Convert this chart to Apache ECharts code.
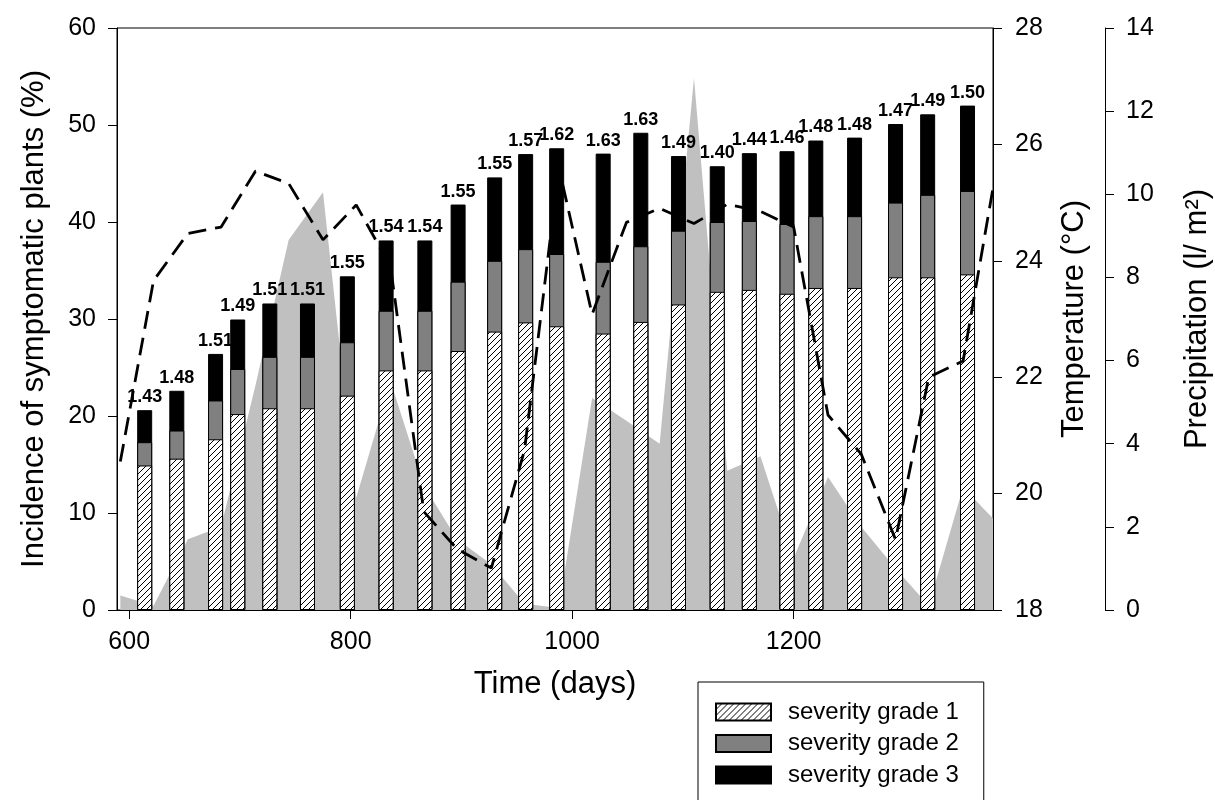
<!DOCTYPE html>
<html><head><meta charset="utf-8">
<script src="https://cdn.jsdelivr.net/npm/echarts@6/dist/echarts.min.js"></script>
<style>html,body{margin:0;padding:0;background:#fff}#c{width:1215px;height:800px}</style>
</head><body><div id="c"></div>
<script>
// ---- data ----
const barDays = [614, 643, 678, 698, 727, 761, 797, 832, 867, 897, 930, 958, 986, 1028, 1062, 1096, 1131, 1160, 1194, 1220, 1255, 1292, 1321, 1357];
const severityIndex = ['1.43','1.48','1.51','1.49','1.51','1.51','1.55','1.54','1.54','1.55','1.55','1.57','1.62','1.63','1.63','1.49','1.40','1.44','1.46','1.48','1.48','1.47','1.49','1.50'];
const grade1 = [14.9, 15.6, 17.6, 20.2, 20.8, 20.8, 22.1, 24.7, 24.7, 26.7, 28.7, 29.65, 29.25, 28.5, 29.7, 31.5, 32.8, 33.0, 32.6, 33.2, 33.2, 34.3, 34.3, 34.6];
const grade2 = [2.4, 2.9, 4.0, 4.65, 5.3, 5.3, 5.5, 6.15, 6.15, 7.15, 7.3, 7.55, 7.45, 7.4, 7.8, 7.6, 7.2, 7.1, 7.2, 7.4, 7.4, 7.7, 8.5, 8.6];
const grade3 = [3.3, 4.1, 4.8, 5.1, 5.5, 5.5, 6.8, 7.25, 7.25, 7.95, 8.6, 9.8, 10.9, 11.15, 11.7, 7.7, 5.75, 7.0, 7.5, 7.8, 8.1, 8.1, 8.3, 8.8];
const climateDays = [592, 622, 653, 683, 714, 744, 775, 805, 836, 866, 896, 927, 957, 988, 1018, 1049, 1079, 1110, 1140, 1170, 1200, 1231, 1261, 1292, 1322, 1353, 1380];
const temperature = [20.55, 23.66, 24.47, 24.58, 25.54, 25.33, 24.36, 24.96, 23.9, 19.69, 19.05, 18.72, 20.75, 25.6, 23.08, 24.66, 24.9, 24.64, 24.97, 24.85, 24.58, 21.35, 20.68, 19.21, 22.0, 22.28, 25.25];
const precipitation = [0.35, 0.1, 1.7, 2.0, 5.4, 8.9, 10.05, 2.7, 5.5, 3.0, 1.7, 1.1, 0.15, 0.05, 5.1, 4.55, 4.0, 12.8, 3.35, 3.7, 1.25, 3.2, 2.0, 1.0, 0.1, 2.95, 2.2];
const xTicks = [600, 800, 1000, 1200];
const seriesNames = ['severity grade 1', 'severity grade 2', 'severity grade 3'];

// ---- rendering ----
const FONT = "'Liberation Sans', Arial, sans-serif";
function hatch() {
  const c = document.createElement('canvas');
  c.width = 6; c.height = 6;
  const g = c.getContext('2d');
  g.fillStyle = '#fff'; g.fillRect(0, 0, 6, 6);
  g.strokeStyle = '#000'; g.lineWidth = 1;
  g.beginPath();
  g.moveTo(0, 6); g.lineTo(6, 0);
  g.moveTo(-1, 1); g.lineTo(1, -1);
  g.moveTo(5, 7); g.lineTo(7, 5);
  g.stroke();
  return c;
}
const zip = (xs, ys) => xs.map((x, i) => [x, ys[i]]);
// cumulative tops of the stacked segments (drawn as overlapping bars)
const top1 = grade1.slice();
const top2 = grade1.map((v, i) => v + grade2[i]);
const top3 = top2.map((v, i) => v + grade3[i]);

const chart = echarts.init(document.getElementById('c'), null, {renderer: 'canvas'});
const axisLine = {show: true, lineStyle: {color: '#000', width: 1}};
const tick = {show: true, inside: false, length: 9, lineStyle: {color: '#000', width: 1}};
const tickLabel = {color: '#000', fontSize: 25, fontFamily: FONT, formatter: v => String(v)};
const nameStyle = {color: '#000', fontSize: 31, fontFamily: FONT};

const barBase = {type: 'bar', barWidth: 15, barGap: '-100%', xAxisIndex: 0, yAxisIndex: 0};

chart.setOption({
  animation: false,
  backgroundColor: '#fff',
  grid: {left: 117, right: 222, top: 28, bottom: 190, outerBoundsMode: 'none', containLabel: false,
         show: true, borderColor: '#000', borderWidth: 1, backgroundColor: 'transparent'},
  legend: {
    orient: 'vertical', left: 698, top: 682, height: 140,
    data: seriesNames,
    icon: 'rect', itemWidth: 55, itemHeight: 17, itemGap: 7.5,
    padding: [18, 25, 16, 17],
    borderColor: '#000', borderWidth: 1,
    textStyle: {color: '#000', fontSize: 24, fontFamily: FONT, padding: [0, 0, 0, 12]},
    selectedMode: false
  },
  xAxis: {
    type: 'value', min: 589, max: 1380,
    name: 'Time (days)', nameLocation: 'middle', nameGap: 59, nameTextStyle: nameStyle, nameMoveOverlap: false,
    axisLine: axisLine,
    axisTick: Object.assign({}, tick, {customValues: xTicks}),
    axisLabel: Object.assign({}, tickLabel, {customValues: xTicks, margin: 20}),
    splitLine: {show: false}
  },
  yAxis: [
    {
      type: 'value', position: 'left', min: 0, max: 60, interval: 10,
      name: 'Incidence of symptomatic plants (%)', nameLocation: 'middle', nameGap: 67, nameTextStyle: nameStyle, nameMoveOverlap: false,
      axisLine: axisLine, axisTick: tick,
      axisLabel: Object.assign({}, tickLabel, {margin: 21}),
      splitLine: {show: false}
    },
    {
      type: 'value', position: 'right', min: 18, max: 28, interval: 2,
      name: 'Temperature (°C)', nameLocation: 'middle', nameGap: 66, nameTextStyle: nameStyle, nameMoveOverlap: false,
      axisLine: axisLine, axisTick: tick,
      axisLabel: Object.assign({}, tickLabel, {margin: 22}),
      splitLine: {show: false}
    },
    {
      type: 'value', position: 'right', offset: 112, min: 0, max: 14, interval: 2,
      name: 'Precipitation (l/ m²)', nameLocation: 'middle', nameGap: 77, nameTextStyle: nameStyle, nameMoveOverlap: false,
      axisLine: axisLine, axisTick: tick,
      axisLabel: Object.assign({}, tickLabel, {margin: 21}),
      splitLine: {show: false}
    }
  ],
  series: [
    {
      name: 'Precipitation', type: 'line', yAxisIndex: 2, z: 1, silent: true,
      data: zip(climateDays, precipitation),
      symbol: 'none', lineStyle: {width: 0, color: '#c0c0c0'},
      areaStyle: {color: '#c0c0c0', opacity: 1}
    },
    Object.assign({}, barBase, {
      name: seriesNames[2], data: zip(barDays, top3), z: 3,
      itemStyle: {color: '#000', borderColor: '#000', borderWidth: 1},
      label: {
        show: true, position: 'top', distance: 4,
        formatter: p => severityIndex[p.dataIndex],
        color: '#000', fontSize: 18, fontWeight: 'bold', fontFamily: FONT
      }
    }),
    Object.assign({}, barBase, {
      name: seriesNames[1], data: zip(barDays, top2), z: 3,
      itemStyle: {color: '#808080', borderColor: '#000', borderWidth: 1}
    }),
    Object.assign({}, barBase, {
      name: seriesNames[0], data: zip(barDays, top1), z: 3,
      itemStyle: {color: {image: hatch(), repeat: 'repeat'}, borderColor: '#000', borderWidth: 1}
    }),
    {
      name: 'Temperature', type: 'line', yAxisIndex: 1, z: 6, silent: true,
      data: zip(climateDays, temperature),
      symbol: 'none',
      lineStyle: {color: '#000', width: 2.8, type: [18, 9]}
    }
  ]
});
</script></body></html>
